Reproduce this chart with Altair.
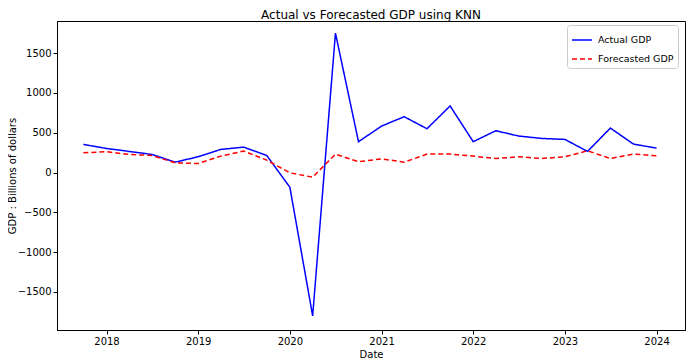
import altair as alt
import pandas as pd

dates = ["2017-10-01","2018-01-01","2018-04-01","2018-07-01","2018-10-01",
         "2019-01-01","2019-04-01","2019-07-01","2019-10-01",
         "2020-01-01","2020-04-01","2020-07-01","2020-10-01",
         "2021-01-01","2021-04-01","2021-07-01","2021-10-01",
         "2022-01-01","2022-04-01","2022-07-01","2022-10-01",
         "2023-01-01","2023-04-01","2023-07-01","2023-10-01","2024-01-01"]
actual = [353, 302, 265, 227, 130, 198, 290, 319, 214, -185, -1800, 1751, 387,
          583, 701, 550, 836, 387, 525, 458, 428, 416, 265, 558, 357, 306]
forecast = [248, 261, 227, 214, 122, 113, 206, 269, 155, -4, -59, 231, 135,
            172, 130, 231, 231, 206, 176, 198, 176, 198, 273, 176, 231, 210]
series_names = ["Actual GDP", "Forecasted GDP"]
series_colors = ["#0000ff", "#ff0000"]
year_ticks = [2018, 2019, 2020, 2021, 2022, 2023, 2024]
y_ticks = [-1500, -1000, -500, 0, 500, 1000, 1500]

def frac_year(s):
    d = pd.Timestamp(s)
    start = pd.Timestamp(year=d.year, month=1, day=1)
    end = pd.Timestamp(year=d.year + 1, month=1, day=1)
    return d.year + (d - start) / (end - start)

rows = []
for name, vals in zip(series_names, [actual, forecast]):
    for dt, v in zip(dates, vals):
        rows.append({"t": frac_year(dt), "value": v, "series": name})
df = pd.DataFrame(rows)

font = "DejaVu Sans"

def legend():
    return alt.Legend(orient="none", legendX=510, legendY=4,
                      symbolType="stroke", symbolSize=400,
                      symbolStrokeWidth=1.5, labelFontSize=9.5,
                      labelFont=font, labelColor="black",
                      strokeColor="#cccccc", fillColor="white",
                      padding=4, cornerRadius=3, rowPadding=3,
                      labelLimit=200, labelOffset=5)

axis_common = dict(grid=False, tickSize=4, labelFontSize=10, titleFontSize=10,
                   titleFontWeight="normal", labelColor="black", titleColor="black",
                   tickColor="black", domainColor="black", labelFont=font, titleFont=font)

chart = alt.Chart(df).mark_line(strokeWidth=1.5).encode(
    x=alt.X("t:Q", title="Date",
            scale=alt.Scale(domain=[2017.46, 2024.31], nice=False, zero=False),
            axis=alt.Axis(values=year_ticks, format="d", titlePadding=3, **axis_common)),
    y=alt.Y("value:Q", title="GDP : Billions of dollars",
            scale=alt.Scale(domain=[-1978, 1903], nice=False, zero=False),
            axis=alt.Axis(values=y_ticks, format="d", titlePadding=0, labelPadding=2,
                          **axis_common)),
    color=alt.Color("series:N", title=None,
                    scale=alt.Scale(domain=series_names, range=series_colors),
                    legend=legend()),
    strokeDash=alt.StrokeDash("series:N", title=None,
                              scale=alt.Scale(domain=series_names, range=[[1, 0], [5, 3]]),
                              legend=legend()),
).properties(
    width=628, height=309,
    title=alt.Title("Actual vs Forecasted GDP using KNN", fontSize=12, font=font,
                    fontWeight="normal", color="black", offset=1, dy=2),
    autosize="none",
    padding={"left": 49, "top": 13, "right": 7, "bottom": 34},
).configure_view(stroke="black", strokeWidth=1)

chart.save("out.html", embed_options={"renderer": "svg", "actions": False})
